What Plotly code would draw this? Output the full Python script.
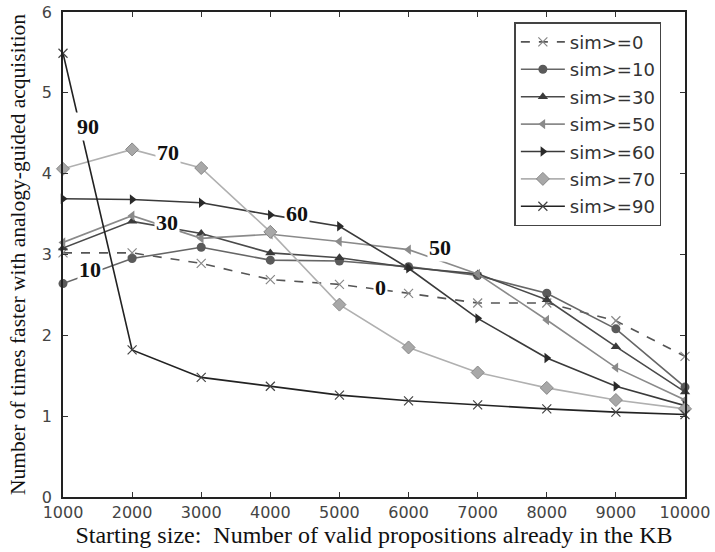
import plotly.graph_objects as go

x_vals = [1000, 2000, 3000, 4000, 5000, 6000, 7000, 8000, 9000, 10000]
x_ticktext = ["1000", "2000", "3000", "4000", "5000", "6000", "7000", "8000", "9000", "10000"]
sim0 = [3.02, 3.02, 2.89, 2.69, 2.63, 2.52, 2.40, 2.40, 2.18, 1.74]
sim10 = [2.64, 2.95, 3.09, 2.93, 2.92, 2.85, 2.74, 2.52, 2.08, 1.36]
sim30 = [3.08, 3.41, 3.26, 3.02, 2.96, 2.84, 2.76, 2.44, 1.86, 1.30]
sim50 = [3.15, 3.48, 3.20, 3.25, 3.16, 3.06, 2.76, 2.19, 1.60, 1.20]
sim60 = [3.69, 3.68, 3.64, 3.49, 3.35, 2.83, 2.21, 1.72, 1.37, 1.13]
sim70 = [4.06, 4.30, 4.07, 3.28, 2.38, 1.85, 1.54, 1.35, 1.20, 1.09]
sim90 = [5.49, 1.82, 1.48, 1.37, 1.26, 1.19, 1.14, 1.09, 1.05, 1.02]

names = ["sim>=0", "sim>=10", "sim>=30", "sim>=50", "sim>=60", "sim>=70", "sim>=90"]
label_text = ["0", "10", "30", "50", "60", "70", "90"]
label_pos = [(5590, 2.59), (1390, 2.81), (2505, 3.39), (6456, 3.09), (4386, 3.51), (2520, 4.26), (1362, 4.58)]

series = [sim0, sim10, sim30, sim50, sim60, sim70, sim90]
styles = [
    dict(line=dict(color="#555555", width=1.6, dash="dash"), marker=dict(symbol="x-thin", size=9, line=dict(color="#888888", width=1.2), color="#888888")),
    dict(line=dict(color="#666666", width=1.6), marker=dict(symbol="circle", size=9, color="#5a5a5a")),
    dict(line=dict(color="#4a4a4a", width=1.6), marker=dict(symbol="triangle-up", size=9, color="#3a3a3a")),
    dict(line=dict(color="#8a8a8a", width=1.6), marker=dict(symbol="triangle-left", size=9, color="#8a8a8a")),
    dict(line=dict(color="#3a3a3a", width=1.6), marker=dict(symbol="triangle-right", size=9, color="#2a2a2a")),
    dict(line=dict(color="#b0b0b0", width=1.6), marker=dict(symbol="diamond", size=10, color="#a8a8a8", line=dict(color="#888888", width=1))),
    dict(line=dict(color="#222222", width=1.6), marker=dict(symbol="x-thin", size=9, line=dict(color="#444444", width=1.2), color="#444444")),
]

fig = go.Figure()
for name, ys, st in zip(names, series, styles):
    fig.add_trace(go.Scatter(x=x_vals, y=ys, name=name, mode="lines+markers", legendgroup=name,
                             line=st["line"], marker=st["marker"], cliponaxis=False))

for txt, (lx, ly) in zip(label_text, label_pos):
    fig.add_annotation(x=lx, y=ly, text="<b>" + txt + "</b>", showarrow=False,
                       font=dict(family="Liberation Serif", size=22, color="#111111"),
                       bgcolor="white", borderpad=1)

fig.update_layout(
    width=715, height=552,
    margin=dict(l=63, r=30, t=12, b=55),
    paper_bgcolor="white", plot_bgcolor="white",
    showlegend=True,
    legend=dict(x=0.962, y=0.979, xanchor="right", yanchor="top",
                bordercolor="#444444", borderwidth=1.5, bgcolor="white",
                font=dict(family="DejaVu Sans", size=18, color="#333333"),
                tracegroupgap=1, itemwidth=44),
    xaxis=dict(range=[1000, 10000], tickvals=x_vals, ticktext=x_ticktext, ticks="inside", ticklen=5,
               tickcolor="#333333", showgrid=False, zeroline=False, automargin=False,
               showline=True, linecolor="#222222", linewidth=1.5, mirror="ticks",
               tickfont=dict(family="DejaVu Sans", size=16, color="#444444"),
               title=dict(text="Starting size:  Number of valid propositions already in the KB",
                          font=dict(family="Liberation Serif", size=24, color="#111111"), standoff=2)),
    yaxis=dict(range=[0, 6], tickvals=[0, 1, 2, 3, 4, 5, 6], ticks="inside", ticklen=5,
               tickcolor="#333333", showgrid=False, zeroline=False, automargin=False,
               showline=True, linecolor="#222222", linewidth=1.5, mirror="ticks",
               ticklabelstandoff=6, ticklabeloverflow="allow",
               tickfont=dict(family="DejaVu Sans", size=16, color="#444444"),
               title=dict(text="Number of times faster with analogy-guided acquisition",
                          font=dict(family="Liberation Serif", size=21.5, color="#111111"), standoff=10)),
)

fig.write_html("out.html", config={"displayModeBar": False},
               post_script="document.body.style.margin='0';")
